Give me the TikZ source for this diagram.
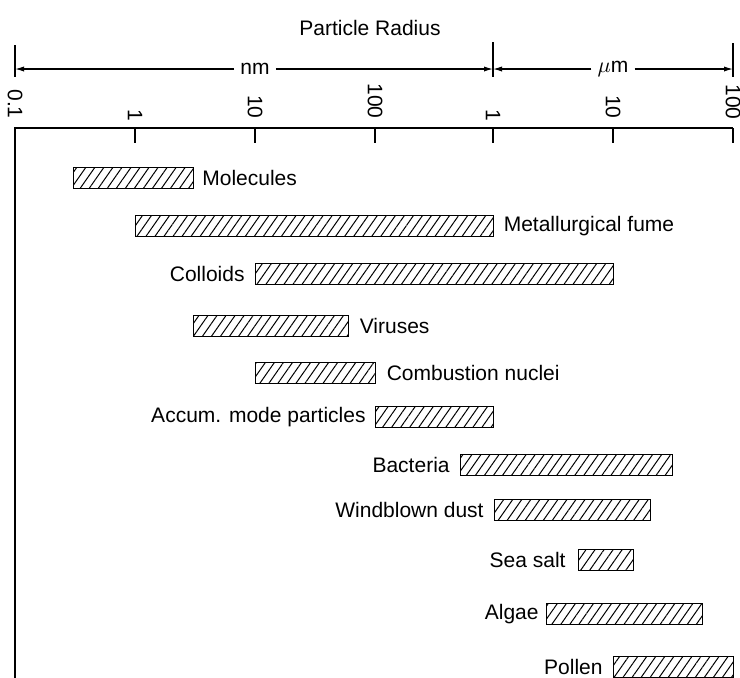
\documentclass[tikz,border=0pt]{standalone}
\usepackage{fontspec}
\setmainfont{Liberation Sans}
\usetikzlibrary{positioning,patterns.meta,arrows.meta}

\tikzset{
  bar/.style={draw, line width=0.7pt, inner sep=0pt, minimum height=10.5pt,
    anchor=west, pattern={Lines[angle=55,distance=3.7pt,line width=0.5pt]}},
  lbl/.style={inner sep=0pt, font=\fontsize{10.5}{12}\selectfont},
  ticklbl/.style={lbl, rotate=-90, anchor=east},
  dim/.style={line width=0.6pt, -{Latex[length=4.5pt,width=2.6pt]}}
}

\begin{document}
\begin{tikzpicture}[x=0.5pt, y=-0.5pt]
      \useasboundingbox (0,0) rectangle (740,677);

      \node[lbl] (title) at (370,28){Particle Radius};

      % dimension line
      \coordinate (lt) at (15,69);
      \coordinate (mt) at (493,69);
      \coordinate (rt) at (733,69);
      \draw[line width=0.7pt] (15,45) -- (15,77);
      \draw[line width=0.7pt] (493,42) -- (493,77);
      \draw[line width=0.7pt] (733,43) -- (733,77);

      \node[lbl, fill=white, inner xsep=3pt] (nm) at (255,69){nm};
      \node[lbl, fill=white, inner xsep=3pt] (um) at (613,69){$\mu$m};

      \draw[dim] (nm.west) -- (lt);
      \draw[dim] (nm.east) -- (mt);
      \draw[dim] (um.west) -- (mt);
      \draw[dim] (um.east) -- (rt);

      % scale
      \node[ticklbl] (t0) at (15,119){0.1};
      \node[ticklbl] (t1) at (135,122){1};
      \node[ticklbl] (t2) at (255,119){10};
      \node[ticklbl] (t3) at (375,119){100};
      \node[ticklbl] (t4) at (493,122){1};
      \node[ticklbl] (t5) at (613,119){10};
      \node[ticklbl] (t6) at (733,120){100};

      \draw[line width=0.8pt] (15,680) -- (15,128) -- (733,128);
      \foreach \x in {135,255,375,493,613,733}
        \draw[line width=0.7pt] (\x,128) -- (\x,143);

      % bars
      \node[bar, minimum width=60pt] (mol) at (73,178){};
      \node[bar, minimum width=179pt] (metal) at (135,226){};
      \node[bar, minimum width=179pt] (coll) at (255,274){};
      \node[bar, minimum width=77.5pt] (vir) at (193,326){};
      \node[bar, minimum width=60pt] (comb) at (255,373){};
      \node[bar, minimum width=59pt] (accum) at (375,417){};
      \node[bar, minimum width=106pt] (bact) at (460,465){};
      \node[bar, minimum width=78pt] (dust) at (494,510){};
      \node[bar, minimum width=27.5pt] (salt) at (578,560){};
      \node[bar, minimum width=78pt] (algae) at (546,614){};
      \node[bar, minimum width=60pt] (pollen) at (613,667){};

      \node[lbl, right=4pt of mol]{Molecules};
      \node[lbl, right=4.5pt of metal]{Metallurgical fume};
      \node[lbl, left=5pt of coll]{Colloids};
      \node[lbl, right=5pt of vir]{Viruses};
      \node[lbl, right=5pt of comb]{Combustion nuclei};
      \node[lbl, left=4.5pt of accum]{Accum. mode particles};
      \node[lbl, left=5pt of bact]{Bacteria};
      \node[lbl, left=5pt of dust]{Windblown dust};
      \node[lbl, left=6pt of salt]{Sea salt};
      \node[lbl, left=3.5pt of algae]{Algae};
      \node[lbl, left=5pt of pollen]{Pollen};

    \end{tikzpicture}
\end{document}
